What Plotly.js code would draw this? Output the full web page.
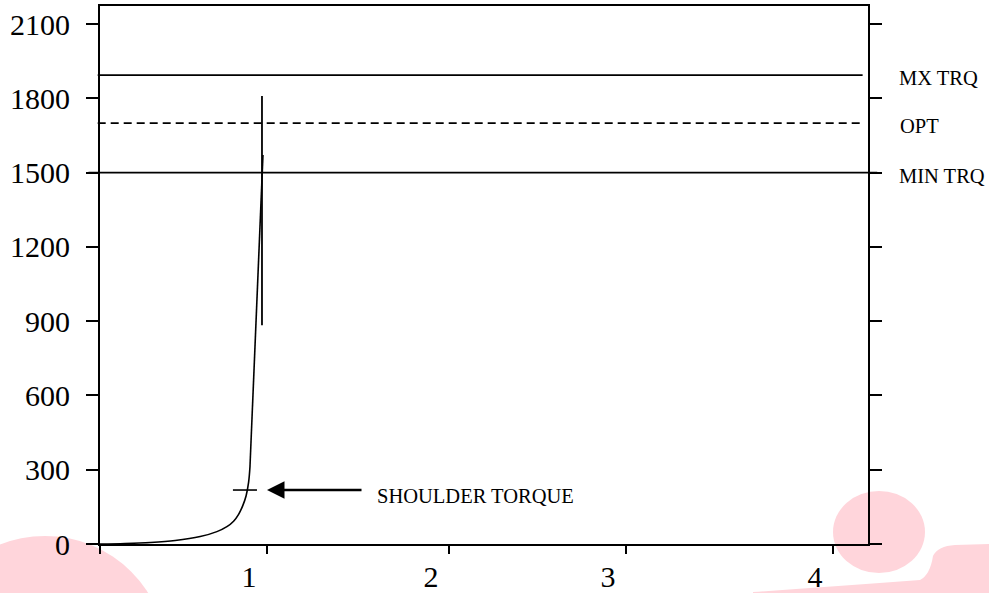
<!DOCTYPE html>
<html>
<head>
<meta charset="utf-8">
<script src="https://cdn.plot.ly/plotly-3.0.1.min.js"></script>
<style>
  html, body { margin: 0; padding: 0; background: #ffffff; }
  #wrap { position: relative; width: 989px; height: 593px; overflow: hidden; }
  #bg { position: absolute; left: 0; top: 0; }
  #chart { position: absolute; left: 0; top: 0; width: 989px; height: 593px; }
</style>
</head>
<body>
<div id="wrap">
  <svg id="bg" width="989" height="593" xmlns="http://www.w3.org/2000/svg">
    <circle cx="45" cy="658" r="122" fill="#FFD5DB"/>
    <ellipse cx="879" cy="532" rx="46" ry="41" fill="#FFD5DB"/>
    <path d="M753,593 L753,592 Q840,586 920,580 Q930,575 933,556 Q938,546 955,545 L989,544 L989,593 Z" fill="#FFD5DB"/>
  </svg>
  <div id="chart"></div>
</div>
<script>
// ---- data ----
// torque-turn curve (x = turns, y = torque)
const curveX = [0, 0.15, 0.30, 0.45, 0.60, 0.70, 0.76, 0.80, 0.83, 0.855, 0.875, 0.89, 0.898];
const curveY = [0, 2, 6, 14, 30, 50, 70, 92, 120, 155, 195, 250, 311];
// straight final rise
const riseX = [0.898, 0.976];
const riseY = [311, 1571];
// vertical marker line
const vertX = [0.97, 0.97];
const vertY = [884, 1809];
// shoulder torque marker
const shoulderX = [0.796, 0.940];
const shoulderY = [218, 218];
const shoulderArrowTip = 1.0;
const shoulderArrowTail = 1.575;
const shoulderLabelX = 1.647;
const shoulderLabel = "SHOULDER TORQUE";
// reference torque levels
const levelNames = ["MX TRQ", "OPT", "MIN TRQ"];
const levelValues = [1894, 1700, 1500];
// axes ticks
const xTickVals = [0, 1, 2.09, 3.15, 4.39];
const xTickText = ["", "1", "2", "3", "4"];
const yTickVals = [0, 300, 600, 900, 1200, 1500, 1800, 2100];
const yTickText = ["0", "300", "600", "900", "1200", "1500", "1800", "2100"];

const serif = "Liberation Serif, Times New Roman, serif";
const lineCol = "#000000";

const traces = [
  { x: curveX, y: curveY, type: "scatter", mode: "lines",
    line: { color: lineCol, width: 1.6, shape: "spline", smoothing: 1 }, hoverinfo: "skip" },
  { x: riseX, y: riseY, type: "scatter", mode: "lines",
    line: { color: lineCol, width: 1.6 }, hoverinfo: "skip" },
  { x: vertX, y: vertY, type: "scatter", mode: "lines",
    line: { color: lineCol, width: 1.8 }, hoverinfo: "skip" },
  { x: shoulderX, y: shoulderY, type: "scatter", mode: "lines",
    line: { color: lineCol, width: 1.6 }, hoverinfo: "skip" }
];

const shapes = levelValues.map((v, i) => ({
  type: "line", xref: "x domain", yref: "y",
  x0: i === 2 ? -0.015 : -0.003, x1: i === 2 ? 1.012 : 0.993,
  y0: v, y1: v,
  line: { color: lineCol, width: 1.6, dash: levelNames[i] === "OPT" ? "8px,5px" : "solid" },
  layer: "above"
}));

const annotations = levelNames.map((name, i) => ({
  xref: "paper", yref: "y", x: name === "OPT" ? 1.039 : 1.0378, y: levelValues[i],
  xanchor: "left", yanchor: "middle", yshift: -3,
  text: name, showarrow: false,
  font: { family: serif, size: 20.5, color: lineCol }
}));
annotations.push({
  xref: "x", yref: "y", axref: "x", ayref: "y",
  x: shoulderArrowTip, y: shoulderY[0], ax: shoulderArrowTail, ay: shoulderY[0],
  text: "", showarrow: true, arrowhead: 2, arrowsize: 1.4, arrowwidth: 2.5, arrowcolor: lineCol,
  standoff: 0
});
annotations.push({
  xref: "x", yref: "y", x: shoulderLabelX, y: shoulderY[0],
  xanchor: "left", yanchor: "middle", yshift: -6,
  text: shoulderLabel, showarrow: false,
  font: { family: serif, size: 20.5, color: lineCol }
});

const xRange = [0, 4.599];
const yRange = [0, 2173];

const layout = {
  width: 989, height: 593,
  margin: { l: 100, r: 121, t: 6, b: 49, pad: 0 },
  paper_bgcolor: "rgba(0,0,0,0)",
  plot_bgcolor: "rgba(0,0,0,0)",
  showlegend: false,
  font: { family: serif, color: lineCol },
  xaxis: {
    range: xRange, showgrid: false, zeroline: false,
    showline: true, linecolor: lineCol, linewidth: 2, mirror: true,
    tickmode: "array", tickvals: xTickVals, ticktext: xTickText,
    ticks: "outside", ticklen: 8, tickwidth: 2, tickcolor: lineCol,
    ticklabelshift: -18, ticklabelstandoff: -3,
    tickfont: { family: serif, size: 30, color: lineCol }
  },
  xaxis2: {
    overlaying: "x", anchor: "y", matches: "x", range: xRange,
    showgrid: false, zeroline: false, showline: false,
    tickmode: "array", tickvals: xTickVals,
    ticks: "inside", ticklen: 16, tickwidth: 2, tickcolor: lineCol,
    showticklabels: false
  },
  yaxis: {
    range: yRange, showgrid: false, zeroline: false,
    showline: true, linecolor: lineCol, linewidth: 2, mirror: "ticks",
    tickmode: "array", tickvals: yTickVals, ticktext: yTickText,
    ticks: "outside", ticklen: 12, tickwidth: 2, tickcolor: lineCol,
    ticklabelstandoff: 10,
    tickfont: { family: serif, size: 30, color: lineCol }
  },
  yaxis2: {
    overlaying: "y", anchor: "x", matches: "y", range: yRange,
    showgrid: false, zeroline: false, showline: false, mirror: "ticks",
    tickmode: "array", tickvals: yTickVals,
    ticks: "inside", ticklen: 12, tickwidth: 2, tickcolor: lineCol,
    showticklabels: false
  },
  shapes: shapes,
  annotations: annotations
};

Plotly.newPlot("chart", traces, layout, { displayModeBar: false, staticPlot: true });
</script>
</body>
</html>
